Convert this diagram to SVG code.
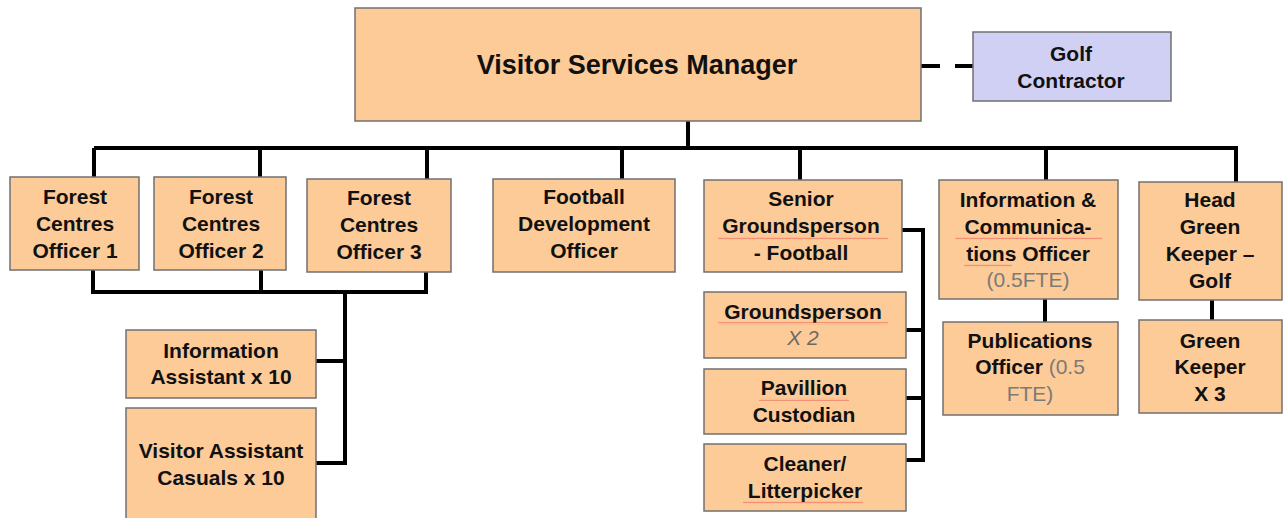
<svg xmlns="http://www.w3.org/2000/svg" width="1287" height="518" viewBox="0 0 1287 518">
<style>
.box{fill:#fdcb98;stroke:#707070;stroke-width:1.5}
.golf{fill:#d0d0f4;stroke:#707070;stroke-width:1.5}
text{font-family:"Liberation Sans",Arial,sans-serif;font-weight:bold;font-size:21px;fill:#111;text-anchor:middle}
.title{font-size:27px}
.g{fill:#7a7a7a;font-weight:normal}
.gi{fill:#6a6a6a;font-weight:normal;font-style:italic}
.ln{fill:none;stroke:#000;stroke-width:4;stroke-linejoin:miter}
.wv{fill:url(#wave)}
</style>
<defs>
<pattern id="wave" width="4" height="3" patternUnits="userSpaceOnUse">
<polyline points="0,2.2 1,0.8 2,2.2 3,0.8 4,2.2" fill="none" stroke="#e85050" stroke-width="0.6" opacity="0.8"/>
</pattern>
</defs>
<rect width="1287" height="518" fill="#fff"/>
<g id="connectors">
<path class="ln" d="M921 66 H940 M955 66 H973"/>
<path class="ln" d="M688 120 V148 M94 148 H1238 M94 148 V177 M260 148 V177 M427 148 V179 M622 148 V179 M800 148 V180 M1046 148 V180 M1236 148 V182"/>
<path class="ln" d="M93 270 V292 H426 V272 M261 270 V292 M345 292 V463 H316 M345 361 H316"/>
<path class="ln" d="M902 230 H923 V460 H906 M923 330 H906 M923 398 H906"/>
<path class="ln" d="M1045 299 V322 M1212 300 V320"/>
</g>
<g id="n-vsm"><rect class="box" x="355" y="8" width="566" height="113"/><text class="title" x="637" y="74">Visitor Services Manager</text></g>
<g id="n-golf"><rect class="golf" x="973" y="32" width="198" height="69"/><text x="1071" y="61">Golf</text><text x="1071" y="88">Contractor</text></g>
<g id="n-fc1"><rect class="box" x="10" y="177" width="129" height="93"/><text x="75" y="204">Forest</text><text x="75" y="231">Centres</text><text x="75" y="258">Officer 1</text></g>
<g id="n-fc2"><rect class="box" x="154" y="177" width="132" height="93"/><text x="221" y="204">Forest</text><text x="221" y="231">Centres</text><text x="221" y="258">Officer 2</text></g>
<g id="n-fc3"><rect class="box" x="307" y="179" width="144" height="93"/><text x="379" y="205">Forest</text><text x="379" y="232">Centres</text><text x="379" y="259">Officer 3</text></g>
<g id="n-fdo"><rect class="box" x="493" y="179" width="182" height="93"/><text x="584" y="204">Football</text><text x="584" y="231">Development</text><text x="584" y="258">Officer</text></g>
<g id="n-sgf"><rect class="box" x="704" y="180" width="198" height="92"/><text x="801" y="206">Senior</text><text x="801" y="233">Groundsperson</text><text x="801" y="260">- Football</text><rect class="wv" x="718" y="237" width="170" height="3"/></g>
<g id="n-gp"><rect class="box" x="704" y="292" width="202" height="66"/><text x="803" y="319">Groundsperson</text><text class="gi" x="803" y="345">X 2</text><rect class="wv" x="718" y="322" width="170" height="3"/></g>
<g id="n-pc"><rect class="box" x="704" y="369" width="202" height="65"/><text x="804" y="395">Pavillion</text><text x="804" y="422">Custodian</text><rect class="wv" x="759" y="398" width="90" height="3"/></g>
<g id="n-cl"><rect class="box" x="704" y="444" width="202" height="67"/><text x="805" y="471">Cleaner/</text><text x="805" y="498">Litterpicker</text><rect class="wv" x="743" y="501" width="120" height="3"/></g>
<g id="n-ia"><rect class="box" x="126" y="330" width="190" height="68"/><text x="221" y="358">Information</text><text x="221" y="384">Assistant x 10</text></g>
<g id="n-va"><rect class="box" x="126" y="408" width="190" height="116"/><text x="221" y="458">Visitor Assistant</text><text x="221" y="485">Casuals x 10</text></g>
<g id="n-ico"><rect class="box" x="939" y="180" width="179" height="119"/><text x="1028" y="207">Information &amp;</text><text x="1028" y="234">Communica-</text><text x="1028" y="261">tions Officer</text><text class="g" x="1028" y="287">(0.5FTE)</text><rect class="wv" x="955" y="237" width="147" height="3"/><rect class="wv" x="964" y="264" width="48" height="3"/></g>
<g id="n-po"><rect class="box" x="943" y="322" width="175" height="93"/><text x="1030" y="348">Publications</text><text x="1030" y="374">Officer <tspan class="g">(0.5</tspan></text><text class="g" x="1030" y="401">FTE)</text></g>
<g id="n-hgk"><rect class="box" x="1139" y="182" width="143" height="118"/><text x="1210" y="207">Head</text><text x="1210" y="234">Green</text><text x="1210" y="261">Keeper –</text><text x="1210" y="288">Golf</text></g>
<g id="n-gk"><rect class="box" x="1139" y="320" width="143" height="93"/><text x="1210" y="348">Green</text><text x="1210" y="374">Keeper</text><text x="1210" y="401">X 3</text></g>
</svg>
